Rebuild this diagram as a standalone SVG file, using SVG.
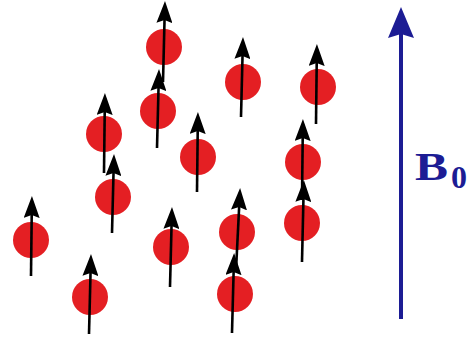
<svg xmlns="http://www.w3.org/2000/svg" width="469" height="341" viewBox="0 0 469 341">
<style>
.p{fill:#e41f23}
.a{stroke:#000;stroke-width:2.6;fill:none;marker-end:url(#ah)}
.b{stroke:#1c1c94;stroke-width:4;fill:none}
.t{font-family:"Liberation Serif","DejaVu Serif",serif;fill:#1c1c94;font-weight:bold}
</style>
<defs>
<marker id="ah" markerUnits="userSpaceOnUse" viewBox="0 0 22 16" refX="10" refY="8" markerWidth="22" markerHeight="16" orient="auto">
<path d="M0,0 L22,8 L0,16 L3,8 z" fill="#000"/>
</marker>
</defs>
<rect width="469" height="341" fill="#fff"/>
<g id="spin1"><circle class="p" cx="164" cy="47" r="18"/><line class="a" x1="163" y1="82" x2="164.7" y2="13"/></g>
<g id="spin2"><circle class="p" cx="158" cy="111" r="18"/><line class="a" x1="157" y1="148" x2="158.7" y2="81"/></g>
<g id="spin3"><circle class="p" cx="243" cy="82" r="18"/><line class="a" x1="241" y1="117" x2="242.7" y2="49"/></g>
<g id="spin4"><circle class="p" cx="318" cy="87" r="18"/><line class="a" x1="316" y1="124" x2="316.8" y2="56"/></g>
<g id="spin5"><circle class="p" cx="104" cy="134" r="18"/><line class="a" x1="104" y1="173" x2="104.8" y2="105"/></g>
<g id="spin6"><circle class="p" cx="198" cy="157" r="18"/><line class="a" x1="197" y1="192" x2="197.8" y2="124"/></g>
<g id="spin7"><circle class="p" cx="303" cy="162" r="18"/><line class="a" x1="302" y1="200" x2="302.8" y2="131"/></g>
<g id="spin8"><circle class="p" cx="113" cy="197" r="18"/><line class="a" x1="112" y1="233" x2="113.7" y2="166"/></g>
<g id="spin9"><circle class="p" cx="31" cy="240" r="18"/><line class="a" x1="31" y1="276" x2="31.8" y2="208"/></g>
<g id="spin10"><circle class="p" cx="302" cy="223" r="18"/><line class="a" x1="302" y1="262" x2="303.6" y2="192"/></g>
<g id="spin11"><circle class="p" cx="237" cy="232" r="18"/><line class="a" x1="236" y1="270" x2="239.5" y2="200"/></g>
<g id="spin12"><circle class="p" cx="171" cy="247" r="18"/><line class="a" x1="170" y1="287" x2="171.7" y2="219"/></g>
<g id="spin13"><circle class="p" cx="90" cy="297" r="18"/><line class="a" x1="89" y1="334" x2="90.7" y2="266"/></g>
<g id="spin14"><circle class="p" cx="235" cy="294" r="18"/><line class="a" x1="232" y1="333" x2="233.8" y2="265"/></g>
<g id="B0">
<line class="b" x1="401" y1="319" x2="401" y2="34"/>
<path d="M388,38 L401,7 L414,38 L401,34 z" fill="#1c1c94"/>
<text class="t" x="415" y="180" font-size="39" textLength="33" lengthAdjust="spacingAndGlyphs">B</text>
<text class="t" x="451" y="188" font-size="32">0</text>
</g>
</svg>
